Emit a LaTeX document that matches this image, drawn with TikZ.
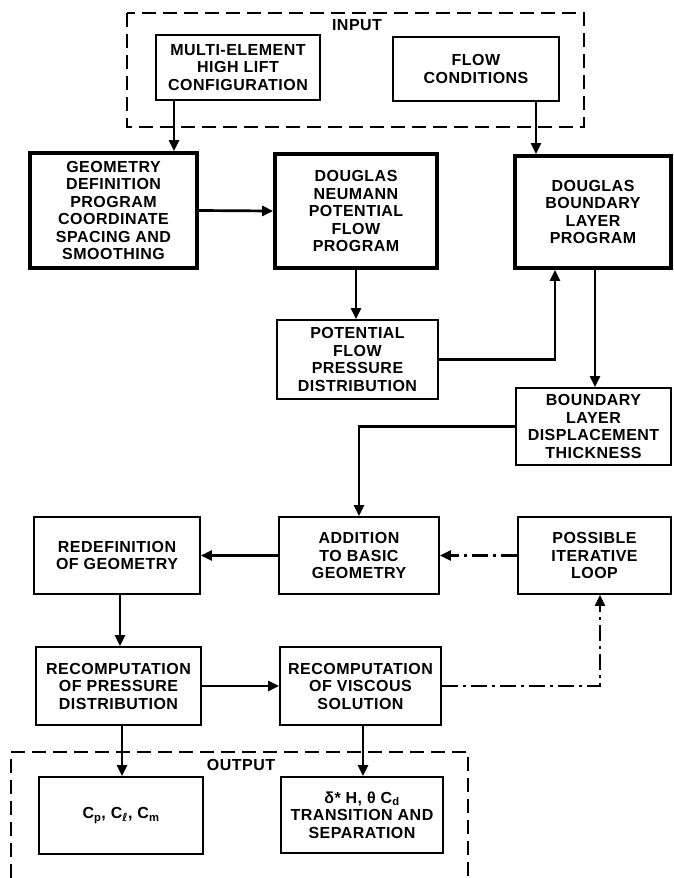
\documentclass[tikz,border=0pt]{standalone}
\usepackage{fontspec}
\setmainfont{Liberation Sans}[LetterSpace=3]
\newfontfamily\dejavu{DejaVu Sans}
\usetikzlibrary{arrows.meta}
\begin{document}
\begin{tikzpicture}[x=1pt,y=-1pt,
  every node/.style={font=\fontsize{16}{17.5}\selectfont\bfseries, align=center, inner sep=0pt},
  box/.style={draw, line width=1.8pt},
  thickbox/.style={draw, line width=3.8pt},
  arr/.style={line width=2.7pt, -{Triangle[length=11pt,width=10pt]}},
  dashdot/.style={dash pattern=on 16pt off 5pt on 3pt off 5pt},
  dashbox/.style={line width=2pt, dash pattern=on 14pt off 7pt}
]
\useasboundingbox (0,0) rectangle (674,878);

% input / output groups
\draw[dashbox] (127,13) rectangle (584,127);
\node (inlab) at (357,25) {INPUT};
\draw[dashbox] (11,878) -- (11,752) -- (468,752) -- (468,878);
\node (outlab) at (241,765) {OUTPUT};

% nodes
\node[box, minimum width=164pt, minimum height=65pt] (multi) at (238,67.5) {MULTI-ELEMENT\\HIGH LIFT\\CONFIGURATION};
\node[box, minimum width=166pt, minimum height=64pt] (flow) at (476,69) {FLOW\\CONDITIONS};
\node[thickbox, minimum width=167pt, minimum height=115pt] (geom) at (113.5,210.5) {GEOMETRY\\DEFINITION\\PROGRAM\\COORDINATE\\SPACING AND\\SMOOTHING};
\node[thickbox, minimum width=162pt, minimum height=114pt] (neu) at (356,211) {DOUGLAS\\NEUMANN\\POTENTIAL\\FLOW\\PROGRAM};
\node[thickbox, minimum width=156pt, minimum height=112pt] (dbl) at (593,212) {DOUGLAS\\BOUNDARY\\LAYER\\PROGRAM};
\node[box, minimum width=161pt, minimum height=79pt] (pot) at (357.5,359.5) {POTENTIAL\\FLOW\\PRESSURE\\DISTRIBUTION};
\node[box, minimum width=155pt, minimum height=77pt] (bld) at (593.5,426.5) {BOUNDARY\\LAYER\\DISPLACEMENT\\THICKNESS};
\node[box, minimum width=160pt, minimum height=77pt] (add) at (359,555.5) {ADDITION\\TO BASIC\\GEOMETRY};
\node[box, minimum width=166pt, minimum height=77pt] (redef) at (117,555.5) {REDEFINITION\\OF GEOMETRY};
\node[box, minimum width=153pt, minimum height=77pt] (poss) at (594.5,555.5) {POSSIBLE\\ITERATIVE\\LOOP};
\node[box, minimum width=165pt, minimum height=78pt] (rpress) at (118.5,686) {RECOMPUTATION\\OF PRESSURE\\DISTRIBUTION};
\node[box, minimum width=161pt, minimum height=78pt] (rvisc) at (360.5,686) {RECOMPUTATION\\OF VISCOUS\\SOLUTION};
\node[box, minimum width=164pt, minimum height=77pt] (cp) at (121,815.5) {C\textsubscript{p}, C\textsubscript{{\dejavu ℓ}}, C\textsubscript{m}};
\node[box, minimum width=162pt, minimum height=76pt] (delta) at (362,815) {δ* H, θ C\textsubscript{d}\\TRANSITION AND\\SEPARATION};

% helper x positions
\coordinate (xa) at (174,0);
\coordinate (xb) at (536,0);
\coordinate (xc) at (555,0);
\coordinate (xd) at (595,0);
\coordinate (xe) at (120,0);
\coordinate (xf) at (600,0);
\coordinate (xg) at (122,0);
\coordinate (xh) at (363,0);

% connectors
\draw[arr] (multi.south -| xa) -- (geom.north -| xa);
\draw[arr] (flow.south -| xb) -- (dbl.north -| xb);
\draw[arr] (geom.east) -- (neu.west);
\draw[arr] (neu.south) -- (neu.south |- pot.north);
\draw[arr] (pot.east) -| (dbl.south -| xc);
\draw[arr] (dbl.south -| xd) -- (bld.north -| xd);
\draw[arr] (bld.west) -| (add.north);
\draw[arr] (add.west) -- (redef.east);
\draw[arr, dashdot] (poss.west) -- (add.east);
\draw[arr] (redef.south -| xe) -- (rpress.north -| xe);
\draw[arr] (rpress.east) -- (rvisc.west);
\draw[arr, dashdot] (rvisc.east) -| (poss.south -| xf);
\draw[arr] (rpress.south -| xg) -- (cp.north -| xg);
\draw[arr] (rvisc.south -| xh) -- (delta.north -| xh);
\end{tikzpicture}
\end{document}
